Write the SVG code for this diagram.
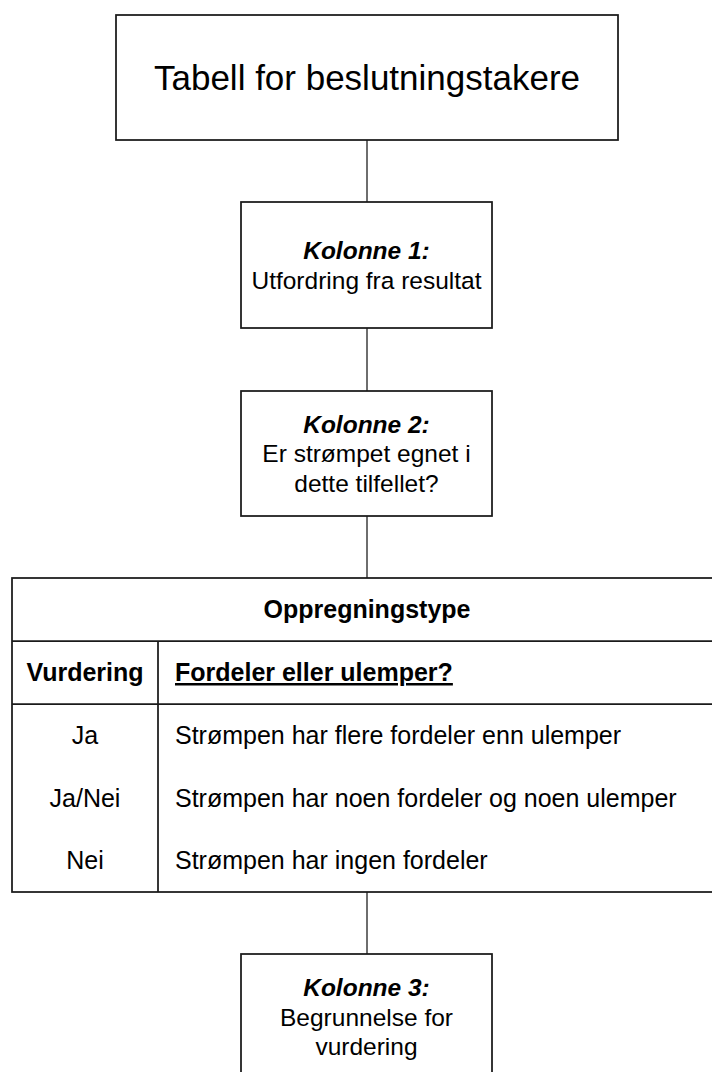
<svg xmlns="http://www.w3.org/2000/svg" width="712" height="1072" viewBox="0 0 712 1072">
<style>
.box{fill:#fff;stroke:#1a1a1a;stroke-width:1.75}
.conn{stroke:#5a5a5a;stroke-width:1.75;fill:none}
text{font-family:"Liberation Sans",Arial,sans-serif;fill:#000}
.t{font-size:24.5px;text-anchor:middle}
.bi{font-weight:bold;font-style:italic}
.b{font-weight:bold}
.tc{font-size:25px;text-anchor:middle}
.l{font-size:25px;text-anchor:start}
</style>
<rect width="712" height="1072" fill="#fff"/>
<g id="connectors">
<line class="conn" x1="367" y1="140" x2="367" y2="202"/>
<line class="conn" x1="367" y1="328" x2="367" y2="391"/>
<line class="conn" x1="367" y1="516" x2="367" y2="578"/>
<line class="conn" x1="367" y1="892" x2="367" y2="954"/>
</g>
<g id="title">
<rect class="box" x="116" y="15" width="502" height="125"/>
<text x="367" y="90" style="font-size:35px;text-anchor:middle">Tabell for beslutningstakere</text>
</g>
<g id="kolonne1">
<rect class="box" x="241" y="202" width="251" height="126"/>
<text class="t bi" x="366.5" y="259">Kolonne 1:</text>
<text class="t" x="366.5" y="288.5">Utfordring fra resultat</text>
</g>
<g id="kolonne2">
<rect class="box" x="241" y="391" width="251" height="125"/>
<text class="t bi" x="366.5" y="432.5">Kolonne 2:</text>
<text class="t" x="366.5" y="462">Er strømpet egnet i</text>
<text class="t" x="366.5" y="491.5">dette tilfellet?</text>
</g>
<g id="tabell">
<rect class="box" x="12" y="578" width="710" height="314"/>
<line class="box" x1="12" y1="641" x2="722" y2="641"/>
<line class="box" x1="12" y1="704" x2="722" y2="704"/>
<line class="box" x1="158" y1="641" x2="158" y2="892"/>
<text class="tc b" x="367" y="618">Oppregningstype</text>
<text class="tc b" x="85" y="681">Vurdering</text>
<text class="l b" x="175" y="681" text-decoration="underline">Fordeler eller ulemper?</text>
<text class="tc" x="85" y="744">Ja</text>
<text class="l" x="175" y="744">Strømpen har flere fordeler enn ulemper</text>
<text class="tc" x="85" y="807">Ja/Nei</text>
<text class="l" x="175" y="807">Strømpen har noen fordeler og noen ulemper</text>
<text class="tc" x="85" y="869">Nei</text>
<text class="l" x="175" y="869">Strømpen har ingen fordeler</text>
</g>
<g id="kolonne3">
<rect class="box" x="241" y="954" width="251" height="126"/>
<text class="t bi" x="366.5" y="996">Kolonne 3:</text>
<text class="t" x="366.5" y="1026">Begrunnelse for</text>
<text class="t" x="366.5" y="1055">vurdering</text>
</g>
</svg>
